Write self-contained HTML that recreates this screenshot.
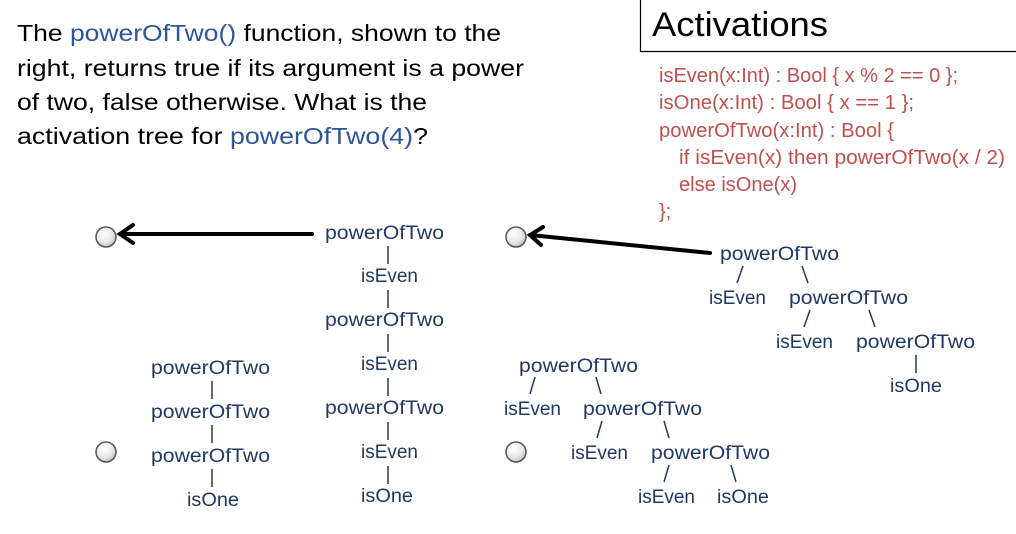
<!DOCTYPE html>
<html><head><meta charset="utf-8"><style>
html,body{margin:0;padding:0;background:#fff;}
svg{display:block;}
text{font-family:"Liberation Sans",sans-serif;}
.t{fill:#1f3864;font-size:19.5px;}
.q{fill:#000;font-size:23.5px;}
.c{fill:#c0504d;font-size:20px;}
.b{fill:#2e5596;}
</style></head><body>
<svg width="1016" height="534" viewBox="0 0 1016 534" xmlns="http://www.w3.org/2000/svg">
<defs>
<radialGradient id="g" cx="0.4" cy="0.35" r="0.7">
<stop offset="0" stop-color="#ffffff"/><stop offset="0.6" stop-color="#e8e8e8"/><stop offset="1" stop-color="#bbbbbb"/>
</radialGradient>
</defs>
<text class="q" x="17" y="41" textLength="484" lengthAdjust="spacingAndGlyphs">The <tspan class="b">powerOfTwo()</tspan> function, shown to the</text>
<text class="q" x="17" y="76" textLength="507" lengthAdjust="spacingAndGlyphs">right, returns true if its argument is a power</text>
<text class="q" x="17" y="110" textLength="410" lengthAdjust="spacingAndGlyphs">of two, false otherwise. What is the</text>
<text class="q" x="17" y="144" textLength="411" lengthAdjust="spacingAndGlyphs">activation tree for <tspan class="b">powerOfTwo(4)</tspan>?</text>
<path d="M640.5 0 V51.5 H1016" fill="none" stroke="#000" stroke-width="1.2"/>
<text x="652" y="36" font-size="34" fill="#000" textLength="176" lengthAdjust="spacingAndGlyphs">Activations</text>
<text class="c" x="659" y="82" textLength="299" lengthAdjust="spacingAndGlyphs">isEven(x:Int) : Bool { x % 2 == 0 };</text>
<text class="c" x="659" y="109" textLength="255" lengthAdjust="spacingAndGlyphs">isOne(x:Int) : Bool { x == 1 };</text>
<text class="c" x="659" y="137" textLength="235" lengthAdjust="spacingAndGlyphs">powerOfTwo(x:Int) : Bool {</text>
<text class="c" x="679" y="164" textLength="326" lengthAdjust="spacingAndGlyphs">if isEven(x) then powerOfTwo(x / 2)</text>
<text class="c" x="679" y="191" textLength="118" lengthAdjust="spacingAndGlyphs">else isOne(x)</text>
<text class="c" x="659" y="218">};</text>
<g fill="url(#g)" stroke="#555" stroke-width="1.5">
<circle cx="106" cy="237" r="10"/><circle cx="106" cy="452" r="10"/>
<circle cx="516" cy="237" r="10"/><circle cx="516" cy="452" r="10"/>
</g>
<g stroke="#000" stroke-width="4" fill="none" stroke-linecap="round">
<line x1="312" y1="234" x2="120" y2="234"/>
<polyline points="133,225 120,234 133,243"/>
<line x1="710" y1="253" x2="530" y2="235"/>
<polyline points="543,227 530,235 541,245"/>
</g>
<g class="t">
<text x="325" y="239" textLength="119" lengthAdjust="spacingAndGlyphs">powerOfTwo</text>
<text x="361" y="282" textLength="57" lengthAdjust="spacingAndGlyphs">isEven</text>
<text x="325" y="326" textLength="119" lengthAdjust="spacingAndGlyphs">powerOfTwo</text>
<text x="361" y="370" textLength="57" lengthAdjust="spacingAndGlyphs">isEven</text>
<text x="325" y="414" textLength="119" lengthAdjust="spacingAndGlyphs">powerOfTwo</text>
<text x="361" y="458" textLength="57" lengthAdjust="spacingAndGlyphs">isEven</text>
<text x="361" y="502" textLength="52" lengthAdjust="spacingAndGlyphs">isOne</text>
<text x="151" y="374" textLength="119" lengthAdjust="spacingAndGlyphs">powerOfTwo</text>
<text x="151" y="418" textLength="119" lengthAdjust="spacingAndGlyphs">powerOfTwo</text>
<text x="151" y="462" textLength="119" lengthAdjust="spacingAndGlyphs">powerOfTwo</text>
<text x="187" y="506" textLength="52" lengthAdjust="spacingAndGlyphs">isOne</text>
<text x="720" y="260" textLength="119" lengthAdjust="spacingAndGlyphs">powerOfTwo</text>
<text x="709" y="304" textLength="57" lengthAdjust="spacingAndGlyphs">isEven</text>
<text x="789" y="304" textLength="119" lengthAdjust="spacingAndGlyphs">powerOfTwo</text>
<text x="776" y="348" textLength="57" lengthAdjust="spacingAndGlyphs">isEven</text>
<text x="856" y="348" textLength="119" lengthAdjust="spacingAndGlyphs">powerOfTwo</text>
<text x="890" y="392" textLength="52" lengthAdjust="spacingAndGlyphs">isOne</text>
<text x="519" y="372" textLength="119" lengthAdjust="spacingAndGlyphs">powerOfTwo</text>
<text x="504" y="415" textLength="57" lengthAdjust="spacingAndGlyphs">isEven</text>
<text x="583" y="415" textLength="119" lengthAdjust="spacingAndGlyphs">powerOfTwo</text>
<text x="571" y="459" textLength="57" lengthAdjust="spacingAndGlyphs">isEven</text>
<text x="651" y="459" textLength="119" lengthAdjust="spacingAndGlyphs">powerOfTwo</text>
<text x="638" y="503" textLength="57" lengthAdjust="spacingAndGlyphs">isEven</text>
<text x="717" y="503" textLength="52" lengthAdjust="spacingAndGlyphs">isOne</text>
</g>
<g stroke="#1f3864" stroke-width="1.5">
<line x1="388" y1="246" x2="388" y2="264"/><line x1="388" y1="290" x2="388" y2="308"/>
<line x1="388" y1="334" x2="388" y2="352"/><line x1="388" y1="378" x2="388" y2="396"/>
<line x1="388" y1="422" x2="388" y2="440"/><line x1="388" y1="466" x2="388" y2="484"/>
<line x1="212" y1="381" x2="212" y2="399"/><line x1="212" y1="425" x2="212" y2="443"/>
<line x1="212" y1="469" x2="212" y2="487"/>
<line x1="743" y1="266" x2="737" y2="283"/><line x1="802" y1="266" x2="808" y2="283"/>
<line x1="810" y1="310" x2="804" y2="327"/><line x1="869" y1="310" x2="875" y2="327"/>
<line x1="916" y1="355" x2="916" y2="373"/>
<line x1="535" y1="377" x2="530" y2="394"/><line x1="596" y1="377" x2="601" y2="394"/>
<line x1="602" y1="421" x2="597" y2="438"/><line x1="664" y1="421" x2="669" y2="438"/>
<line x1="669" y1="465" x2="664" y2="482"/><line x1="731" y1="465" x2="736" y2="482"/>
</g>
</svg>
</body></html>
